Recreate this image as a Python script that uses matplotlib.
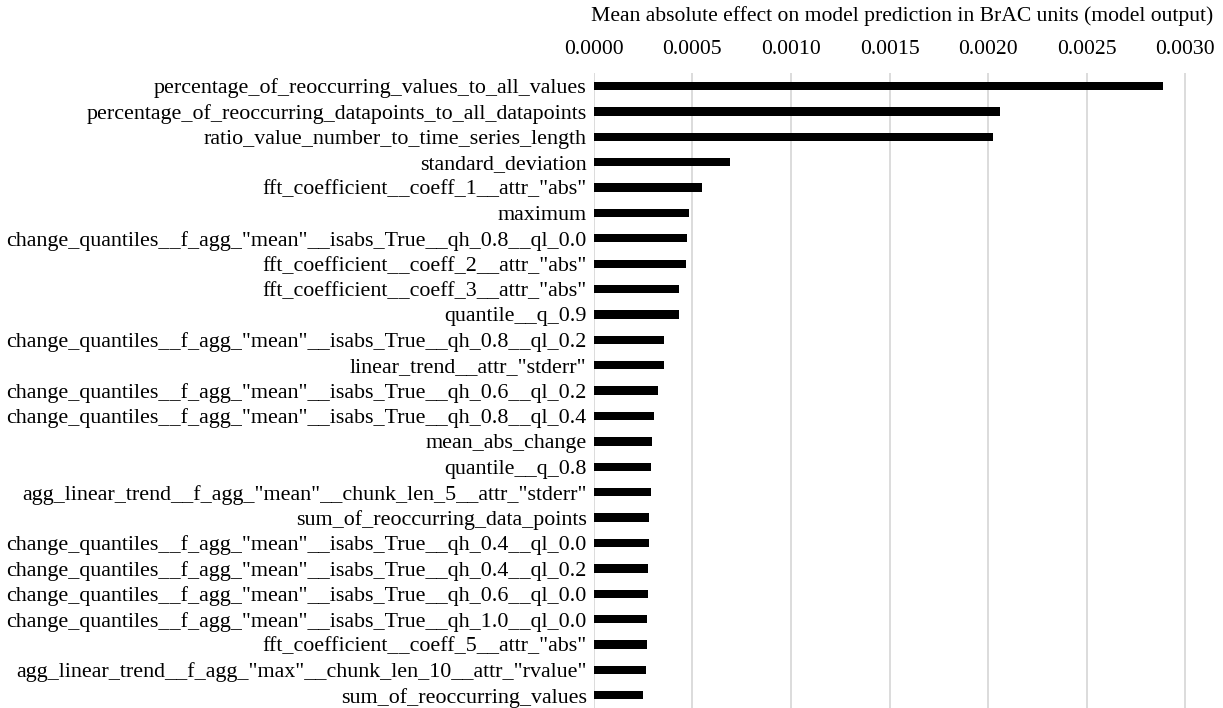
import matplotlib
matplotlib.use("Agg")
import matplotlib.pyplot as plt

# feature names, top to bottom
features = [
    "percentage_of_reoccurring_values_to_all_values",
    "percentage_of_reoccurring_datapoints_to_all_datapoints",
    "ratio_value_number_to_time_series_length",
    "standard_deviation",
    'fft_coefficient__coeff_1__attr_"abs"',
    "maximum",
    'change_quantiles__f_agg_"mean"__isabs_True__qh_0.8__ql_0.0',
    'fft_coefficient__coeff_2__attr_"abs"',
    'fft_coefficient__coeff_3__attr_"abs"',
    "quantile__q_0.9",
    'change_quantiles__f_agg_"mean"__isabs_True__qh_0.8__ql_0.2',
    'linear_trend__attr_"stderr"',
    'change_quantiles__f_agg_"mean"__isabs_True__qh_0.6__ql_0.2',
    'change_quantiles__f_agg_"mean"__isabs_True__qh_0.8__ql_0.4',
    "mean_abs_change",
    "quantile__q_0.8",
    'agg_linear_trend__f_agg_"mean"__chunk_len_5__attr_"stderr"',
    "sum_of_reoccurring_data_points",
    'change_quantiles__f_agg_"mean"__isabs_True__qh_0.4__ql_0.0',
    'change_quantiles__f_agg_"mean"__isabs_True__qh_0.4__ql_0.2',
    'change_quantiles__f_agg_"mean"__isabs_True__qh_0.6__ql_0.0',
    'change_quantiles__f_agg_"mean"__isabs_True__qh_1.0__ql_0.0',
    'fft_coefficient__coeff_5__attr_"abs"',
    'agg_linear_trend__f_agg_"max"__chunk_len_10__attr_"rvalue"',
    "sum_of_reoccurring_values",
]

# mean |effect| in BrAC units
effect = [
    0.002885, 0.002062, 0.002026, 0.000690, 0.000551,
    0.000483, 0.000473, 0.000469, 0.000433, 0.000431,
    0.000358, 0.000356, 0.000325, 0.000306, 0.000294,
    0.000292, 0.000291, 0.000282, 0.000279, 0.000275,
    0.000274, 0.000273, 0.000271, 0.000264, 0.000250,
]

xticks = [0.0, 0.0005, 0.0010, 0.0015, 0.0020, 0.0025, 0.0030]

plt.rcParams["font.family"] = ["Liberation Serif", "DejaVu Serif"]
FS = 15.6

fig = plt.figure(figsize=(12.23, 7.08), dpi=100)
ax = fig.add_axes([0.4854, 0.0, 0.9894 - 0.4854, 0.8965])

pos = list(range(len(features)))
ax.barh(pos, effect, height=0.33, color="black", zorder=3)

ax.set_ylim(len(features) - 0.5, -0.5)
ax.set_xlim(0, 0.003125)
ax.set_yticks(pos)
ax.set_yticklabels(features, fontsize=15.8)
ax.set_xticks(xticks)
ax.set_xticklabels([f"{t:.4f}" for t in xticks], fontsize=FS)

ax.xaxis.tick_top()
ax.xaxis.set_label_position("top")
ax.set_xlabel("Mean absolute effect on model prediction in BrAC units (model output)",
              fontsize=FS, labelpad=14)

ax.tick_params(axis="both", length=0)
ax.tick_params(axis="y", pad=5)
ax.tick_params(axis="x", pad=10)
for s in ax.spines.values():
    s.set_visible(False)
ax.grid(axis="x", color="#d9d9d9", linewidth=1.3, zorder=0)

fig.savefig("out.png", dpi=100, facecolor="white")
